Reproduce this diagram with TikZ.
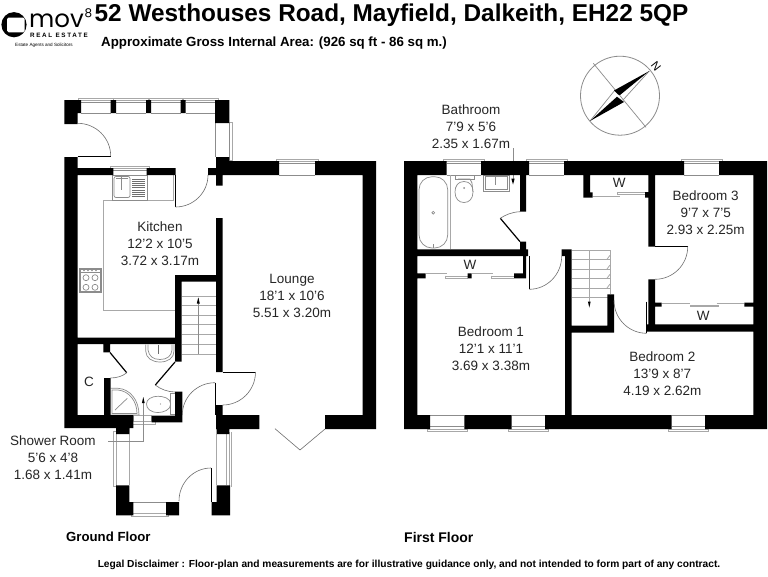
\documentclass[tikz,border=0pt]{standalone}
\usepackage{fontspec}
\setmainfont{Liberation Sans}
\newfontfamily\logofont{Poppins}
\newfontfamily\spacedfont[LetterSpace=26]{Liberation Sans}
\usetikzlibrary{calc}
\definecolor{fixgray}{HTML}{8C8C8C}
\definecolor{lightfix}{HTML}{A8A8A8}
\definecolor{doorgray}{HTML}{6E6E6E}
\tikzset{
  wall/.style={fill=black,draw=none},
  fixture/.style={draw=fixgray,line width=0.7pt},
  lightline/.style={draw=lightfix,line width=0.8pt},
  door/.style={draw=doorgray,line width=0.6pt},
  leaf/.style={draw=black,line width=0.8pt},
  slant/.style={draw=black,line width=1.2pt},
  room/.style={font=\fontsize{13.5}{17}\selectfont,align=center,inner sep=0pt,text=black!85},
  floorname/.style={font=\bfseries\fontsize{13.2}{16}\selectfont,inner sep=0pt,anchor=west},
  tip/.style={fill=black,draw=none}
}
% hinge, end a, end b : a quarter circle
\newcommand{\swing}[6]{\draw[door] (#3,#4) .. controls ($(#3,#4)+0.552*(#5,#6)-0.552*(#1,#2)$) and ($(#5,#6)+0.552*(#3,#4)-0.552*(#1,#2)$) .. (#5,#6);}
% window in a top wall, x1 x2 y-top y-bottom
\newcommand{\topwin}[4]{\draw[lightline] (#1-3,#3-2) rectangle (#2+3,#3);\draw[fixture] (#1,#3+2.5) -- (#2,#3+2.5);\draw[fixture] (#1,#4) -- (#2,#4);}
\newcommand{\botwin}[4]{\draw[lightline] (#1-3,#4) rectangle (#2+3,#4+2);\draw[fixture] (#1,#4-2.5) -- (#2,#4-2.5);\draw[fixture] (#1,#3) -- (#2,#3);}
\begin{document}
\begin{tikzpicture}[x=1pt,y=-1pt]
\useasboundingbox (0,0) rectangle (768,576);
\fill[white] (0,0) rectangle (768,576);

% ---------- heading ----------
\node[inner sep=0pt,anchor=base west,font=\bfseries\fontsize{24.35}{26}\selectfont] (title) at (94.5,21) {52 Westhouses Road, Mayfield, Dalkeith, EH22 5QP};
\node[inner sep=0pt,anchor=base west,font=\bfseries\fontsize{13.3}{15}\selectfont] (area) at (101,46.5) {Approximate Gross Internal Area: (926 sq ft - 86 sq m.)};
\fill[black] (14,24.7) circle[radius=12.6];
\fill[white,rounded corners=1.5pt] (7.2,17.5) rectangle (24.6,32.3);
\node[inner sep=0pt,anchor=base west,font=\logofont\fontsize{24.5}{26}\selectfont] (mov) at (29,27.5) {mov};
\node[inner sep=0pt,anchor=base west,font=\logofont\fontsize{12}{14}\selectfont] (eight) at (84.5,17) {8};
\node[inner sep=0pt,anchor=base west,font=\spacedfont\bfseries\fontsize{6.3}{8}\selectfont] (real) at (30,37) {REAL ESTATE};
\node[inner sep=0pt,anchor=base west,font=\fontsize{4.6}{6}\selectfont] (agents) at (15,46) {Estate Agents and Solicitors};

% ---------- compass ----------
\draw[lightline,draw=fixgray] (620,95.7) circle[radius=39.5];
\draw[fixture] (593.3,63.3) -- (646,127.3);
\draw[fixture] (649.3,71) -- (623,100);
\draw[fixture] (590,121) -- (615,90);
\fill[black] (649.3,71) -- (614,90.5) -- (618,94.5) -- (620,95) -- cycle;
\fill[black] (590,121) -- (617,96.7) -- (624,102) -- cycle;
\node[inner sep=0pt,rotate=-52,font=\fontsize{11.5}{12}\selectfont] (north) at (656,66) {N};

% ---------- ground floor : fittings under the walls ----------
\topwin{81}{110.7}{100}{113}
\topwin{116}{146}{100}{113}
\topwin{151}{180.5}{100}{113}
\topwin{185.5}{215}{100}{113}
\draw[lightline] (229.3,122) rectangle (232.5,160);
\draw[fixture] (215,123) -- (215,157);
\draw[fixture] (229,123) -- (229,157);
\topwin{113.3}{146.7}{168}{175}
\topwin{279}{315}{161}{175}
% worktop
\draw[lightline] (173,175) -- (173,200) -- (103.3,200) -- (103.3,310.7) -- (175,310.7);
% sink
\draw[fixture] (112.7,175) rectangle (147.3,200);
\draw[fixture,rounded corners=2pt] (114,176.5) rectangle (130,197.5);
\draw[fixture,line width=1pt] (121.7,177) -- (121.7,190);
\draw[fixture] (116,178) -- (128,178);
\foreach \yy in {179,181.2,183.4,185.6,187.8,190,192.2,194.4,196.6}{\draw[fixture,draw=doorgray] (132,\yy) -- (145,\yy);}
% hob
\draw[fixture] (79.3,268) rectangle (101.7,292.7);
\draw[fixture] (80.5,269) rectangle (100.5,291.5);
\draw[fixture] (81,272) -- (100,272);
\foreach \cx/\cy in {86/277.7,95/277.7,86/287.3,95/287.3}{\draw[fixture] (\cx,\cy) circle[radius=3];}
\foreach \cx in {84,88,92,96}{\draw[fixture,line width=0.4pt] (\cx,270.5) circle[radius=0.7];}
% stairs
\foreach \yy in {296,305.7,315.3,324.7,334.3,344,354}{\draw[lightline] (181.7,\yy) -- (216,\yy);}
\draw[fixture] (198.3,298) -- (198.3,354);
\fill[tip] (198.3,297.5) -- (196.8,303.5) -- (199.8,303.5) -- cycle;
% basin
\draw[fixture] (145.7,344.5) -- (145.7,351) .. controls (146,358) and (152,362) .. (160,362) .. controls (168,362) and (174,358) .. (174,351) -- (174,344.5);
\draw[fixture] (148,344.5) -- (148,350) .. controls (149,356) and (153,359.5) .. (160,359.5) .. controls (167,359.5) and (171.5,356) .. (172,350) -- (172,344.5);
\draw[fixture,draw=doorgray,line width=1pt] (158.3,345) -- (158.3,354);
% shower
\draw[fixture] (110.7,388.3) -- (118,388.3) .. controls (130,389) and (139,400) .. (139,415) -- (110.7,415);
\draw[fixture] (112,390) -- (118,390) .. controls (129,391) and (137,401) .. (137,413.5) -- (112,413.5) -- cycle;
\draw[fixture] (115,410) -- (127.3,398.3);
% toilet
\draw[fixture] (158.3,396.3) .. controls (151,396.3) and (146.5,399.5) .. (146.5,404) .. controls (146.5,409) and (151,412.5) .. (158.3,412.5) .. controls (163,412.5) and (170.7,410) .. (170.7,404) .. controls (170.7,398) and (163,396.3) .. (158.3,396.3) -- cycle;
\draw[fixture] (170.7,393) rectangle (175,414);
\fill[fixgray] (160.5,404) circle[radius=0.7];
% threshold
\draw[lightline] (133.3,415.7) rectangle (151.7,421.7);
\draw[lightline] (131.7,421.7) rectangle (155,424.3);
% porch lines
\draw[lightline] (129.3,423) -- (129.3,485.3);
\draw[lightline] (113.5,431.7) rectangle (116,486.7);
\draw[lightline] (216.7,434) -- (216.7,485.3);
\draw[lightline] (226.7,434) -- (226.7,485.3);
\draw[lightline] (229.3,432) -- (229.3,486.7);
\draw[lightline] (231.3,432) -- (231.3,486.7);
\draw[fixture] (133.3,513) -- (166,513);
\draw[fixture] (133.3,502) -- (166,502);
\draw[lightline] (131,513.5) rectangle (168.3,516.7);
% lounge doors
\draw[door] (275,428.7) -- (300,450) -- (325,429);

% ---------- first floor : fittings ----------
\topwin{446.7}{481}{161}{175}
\topwin{529}{564}{161}{175}
\topwin{684}{719}{161}{175}
\botwin{430}{464.3}{415}{429}
\botwin{511.7}{545}{415}{429}
\botwin{671.7}{705}{415}{429}
% bath
\draw[fixture,rounded corners=13pt] (419,176.7) rectangle (447.7,248);
\draw[lightline] (450,175) -- (450,249);
\draw[fixture] (433.3,212.7) circle[radius=1.4];
\draw[fixture] (433.3,244) -- (433.3,248);
% wc
\draw[fixture] (455.5,175) rectangle (474,179);
\draw[fixture] (458,179) -- (470,179) -- (472,183) -- (473,192);
\draw[fixture] (464,181.5) .. controls (458,181.5) and (455,186) .. (455,192) .. controls (455,199) and (459,202.5) .. (464,202.5) .. controls (469,202.5) and (473,199) .. (473,192) .. controls (473,186) and (470,181.5) .. (464,181.5) -- cycle;
\fill[fixgray] (464,188) circle[radius=1];
% basin
\draw[fixture] (483,175) rectangle (509,191);
\draw[fixture] (485,176) rectangle (507,189);
\draw[fixture,line width=1pt] (495.5,177) -- (495.5,185);
% leader
\draw[fixture] (513,148) -- (513,180);
\fill[tip] (513,184.5) -- (511.3,178.5) -- (514.7,178.5) -- cycle;
% sliding doors
\foreach \xa/\xb in {425.7/446.7,471.7/493.3}{\draw[lightline] (\xa,273.8) -- (\xb,273.8);}
\foreach \xa/\xb in {445/467.7,491.7/514}{\draw[lightline] (\xa,276.8) -- (\xb,276.8);\draw[lightline] (\xa,275.5) -- (\xa,278) -- (\xb,278);}
\draw[lightline] (592.7,196.7) -- (620,196.7);
\draw[lightline] (617.3,192.8) -- (645,192.8);
\draw[lightline] (617.3,192) rectangle (645,194);
\draw[lightline] (661.7,303.8) -- (690,303.8);
\draw[lightline] (690,305) rectangle (718,306.8);
\draw[lightline] (716.7,303.8) -- (744.3,303.8);
% stairs first floor
\foreach \yy in {250,259.3,269,278.3,288,297.3}{\draw[lightline] (571.7,\yy) -- (610,\yy);}
\draw[lightline] (610,250) -- (610,294.3);
\foreach \yy in {259.3,269,278.3,288}{\draw[lightline] (607,\yy) -- (610,\yy-4);}
\draw[lightline] (589.3,250) -- (589.3,305);
\fill[tip] (589.3,307.5) -- (587.9,301.5) -- (590.7,301.5) -- cycle;

% ---------- walls ----------
\fill[wall]
 (64.3,100) rectangle (81,113)
 (64.3,100) rectangle (77.6,124)
 (110.7,100) rectangle (116,113)
 (146,100) rectangle (151,113)
 (180.5,100) rectangle (185.5,113)
 (215,100) rectangle (229.3,123)
 (64.3,157) rectangle (77.6,428)
 (77.6,168) rectangle (113.3,175)
 (146.7,168) rectangle (175.5,175)
 (208,168) rectangle (216,175)
 (216,157) rectangle (229.3,175)
 (216,175) rectangle (222.7,185.5)
 (216,161) rectangle (279,175)
 (315,161) rectangle (376,175)
 (362.7,161) rectangle (376,429)
 (325,415) rectangle (376,429)
 (216,415) rectangle (259.3,429)
 (216.7,415) rectangle (229.3,434)
 (216,405) rectangle (222.7,415)
 (216,218) rectangle (222.7,372)
 (175,275) rectangle (216,281.7)
 (175,275) rectangle (181.7,361.7)
 (77,337.7) rectangle (181.7,344)
 (103.3,344) rectangle (110,352.3)
 (104,378) rectangle (110.7,415)
 (64.3,415) rectangle (133.3,428)
 (116,428) rectangle (129.3,434)
 (151.7,415.7) rectangle (182.3,422.3)
 (175,391.7) rectangle (182.3,422.3)
 (116,485.3) rectangle (129.3,515.3)
 (116,502) rectangle (133.3,515.3)
 (166,502) rectangle (179,515.3)
 (216.7,485.3) rectangle (230,515.3)
 (211.7,502) rectangle (230,515.3)
 % first floor
 (404,161) rectangle (417.3,429)
 (404,161) rectangle (446.7,175)
 (481,161) rectangle (529,175)
 (564,161) rectangle (684,175)
 (719,161) rectangle (767,175)
 (753.3,161) rectangle (767,429)
 (404,415) rectangle (430,429)
 (464.3,415) rectangle (511.7,429)
 (545,415) rectangle (671.7,429)
 (705,415) rectangle (767,429)
 (520,161) rectangle (526,211.7)
 (520,241.7) rectangle (526,256)
 (417,249.3) rectangle (528,256)
 (523,256) rectangle (526,278.3)
 (417,273.3) rectangle (425.7,278.3)
 (467.7,273.3) rectangle (471.7,278.3)
 (514,273.3) rectangle (526,278.3)
 (565,249.3) rectangle (571.7,429)
 (561.7,249.3) rectangle (571.7,256)
 (571.7,325.7) rectangle (614,332.7)
 (607.3,294.3) rectangle (614,332.7)
 (648.3,175) rectangle (655,246.7)
 (648.3,279.3) rectangle (655,331.7)
 (647,324.3) rectangle (753.3,331.7)
 (655,302.7) rectangle (661.7,306.7)
 (744.3,302.7) rectangle (753.3,306.7)
 (583.3,175) rectangle (590,197.7)
 (583.3,192.3) rectangle (592.7,197.7)
 (645,192) rectangle (648.3,197.7);

% ---------- doors ----------
\draw[leaf] (77.6,156) -- (110.7,156);
\swing{77.6}{156}{110.7}{156}{77.6}{123.3}
\draw[leaf] (175.5,175) -- (175.5,207);
\swing{175.5}{175}{175.5}{207}{208}{175}
\draw[leaf] (222.7,372) -- (255.5,372);
\swing{222.7}{372}{255.5}{372}{222.7}{405}
\draw[leaf] (215,382.7) -- (215,415);
\swing{215}{415}{215}{382.7}{182.3}{415}
\draw[leaf] (211,468) -- (211,502);
\swing{211}{501}{211}{468}{179}{501}
\draw[slant] (110,352.5) -- (126.7,372.7);
\draw[door] (126.7,372.7) .. controls (123,376) and (117,378) .. (110.5,378);
\draw[slant] (175,362) -- (155.3,385);
\draw[door] (155.3,385) .. controls (160,389) and (168,392) .. (175,392);
\draw[slant] (520,241.7) -- (500.3,218.3);
\draw[door] (500.3,218.3) .. controls (505,215) and (512,212) .. (520,211.7);
\draw[leaf] (529.3,256) -- (529.3,289.3);
\swing{529.3}{256}{529.3}{289.3}{561.7}{256}
\draw[leaf] (655,246.7) -- (687.7,246.7);
\swing{655}{246.7}{687.7}{246.7}{655}{279.3}
\draw[leaf] (646.7,301.7) -- (646.7,333.3);
\swing{646.7}{300.5}{646.7}{333.3}{614}{300.5}

% ---------- labels ----------
\draw[fixture] (108.3,441) -- (143.3,441) -- (143.3,401);
\fill[tip] (143.3,397) -- (141.9,403) -- (144.7,403) -- cycle;
\node[room] (kitchen) at (160,243.5) {Kitchen\\12'2 x 10'5\\3.72 x 3.17m};
\node[room] (lounge) at (292,295.5) {Lounge\\18'1 x 10'6\\5.51 x 3.20m};
\node[room] (shower) at (53,458) {Shower Room\\5'6 x 4'8\\1.68 x 1.41m};
\node[room] (cupboard) at (89,381.7) {C};
\node[room] (bathroom) at (471,126.5) {Bathroom\\7'9 x 5'6\\2.35 x 1.67m};
\node[room] (bed1) at (491,348.5) {Bedroom 1\\12'1 x 11'1\\3.69 x 3.38m};
\node[room] (bed2) at (662.3,373.5) {Bedroom 2\\13'9 x 8'7\\4.19 x 2.62m};
\node[room] (bed3) at (705.7,212.5) {Bedroom 3\\9'7 x 7'5\\2.93 x 2.25m};
\node[room] (w1) at (470,265) {W};
\node[room] (w2) at (619.3,182.7) {W};
\node[room] (w3) at (703.3,315.7) {W};
\node[floorname] (gf) at (66,537) {Ground Floor};
\node[floorname,font=\bfseries\fontsize{14}{16}\selectfont] (ff) at (404,537) {First Floor};
\node[inner sep=0pt,font=\bfseries\fontsize{10.2}{12}\selectfont] (legal) at (409,565) {Legal Disclaimer : Floor-plan and measurements are for illustrative guidance only, and not intended to form part of any contract.};
\end{tikzpicture}
\end{document}
